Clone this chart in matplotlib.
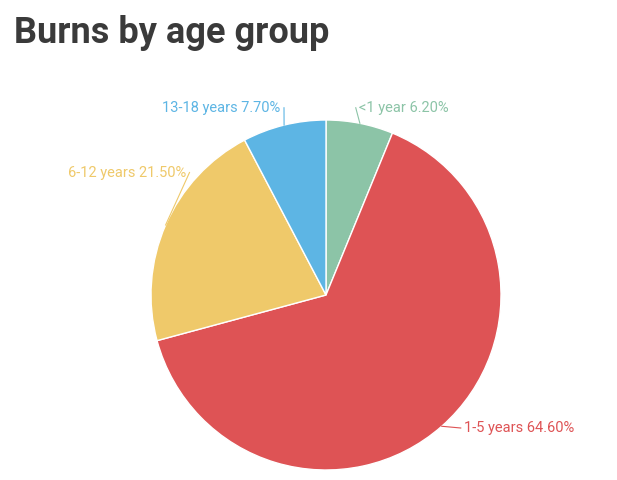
import matplotlib
matplotlib.use("Agg")
import matplotlib.pyplot as plt
import numpy as np

labels = ["<1 year", "1-5 years", "6-12 years", "13-18 years"]
values = [6.2, 64.6, 21.5, 7.7]
colors = ["#8CC4A7", "#DE5355", "#EFC96A", "#5DB5E4"]

fig = plt.figure(figsize=(6.17, 4.8), dpi=100)
fig.text(14/617, 1 - 33/480, "Burns by age group", fontsize=26, fontweight="bold",
         family=["Roboto", "DejaVu Sans"], color="#3a3a3a", va="center", ha="left")
ax = fig.add_axes([151/617, 10/480, 350/617, 350/480])
wedges, _ = ax.pie(values, colors=colors, startangle=90, counterclock=False,
                   wedgeprops=dict(edgecolor="white", linewidth=1))
ax.set_xlim(-1, 1); ax.set_ylim(-1, 1); ax.set_aspect("equal")
ax.axis("off")

# label placement (text pos, alignment, line end)
place = [((0.19, 1.07), "left"), ((0.79, -0.76), "left"),
         ((-0.80, 0.70), "right"), ((-0.26, 1.07), "right")]
for w, lab, v, c, (pos, ha) in zip(wedges, labels, values, colors, place):
    ang = np.deg2rad((w.theta1 + w.theta2) / 2)
    ex, ey = np.cos(ang), np.sin(ang)
    tx = pos[0] + (-0.02 if ha == "left" else 0.02)
    ax.plot([ex, tx], [ey, pos[1]], color=c, lw=0.8, clip_on=False)
    ax.text(pos[0], pos[1], f"{lab} {v:.2f}%", color=c, ha=ha, va="center",
            fontsize=10.5, family=["Roboto", "DejaVu Sans"], clip_on=False)

fig.savefig("out.png", dpi=100)
